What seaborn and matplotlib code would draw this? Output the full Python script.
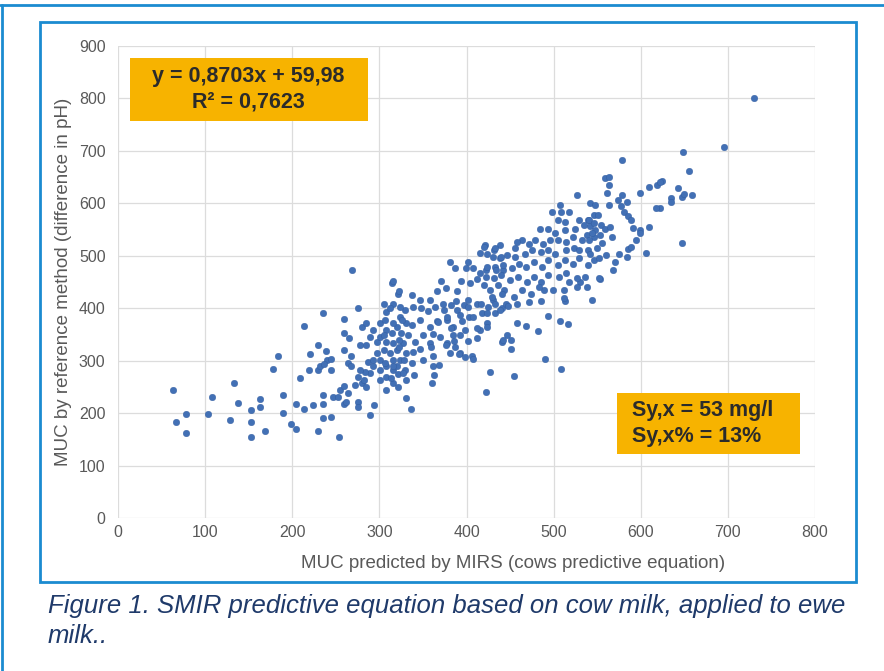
import matplotlib
matplotlib.use("Agg")
import matplotlib.pyplot as plt
import seaborn as sns
import pandas as pd
from matplotlib.patches import Rectangle
from matplotlib.lines import Line2D

# values (MUC, mg/l)
tail_x = [63, 67, 78, 78, 103, 108, 128, 133, 138, 153, 153, 153, 163, 163, 169, 178, 184, 189, 189,
          199, 204, 204, 209, 214, 214, 219, 220, 224, 229, 229, 230, 235, 235, 235, 235, 240, 244,
          244, 247, 254, 239, 245, 232, 236, 255, 259, 253]
tail_y = [244, 183, 198, 162, 198, 231, 186, 257, 219, 206, 183, 154, 226, 211, 165, 285, 308, 234, 200,
          179, 169, 217, 266, 367, 207, 282, 313, 216, 165, 283, 330, 391, 218, 190, 234, 301, 193,
          282, 231, 154, 318, 304, 289, 293, 244, 252, 231]

low_x = [259, 259, 259, 264, 269, 275, 289, 294, 314, 321, 331, 336, 360, 259, 265, 280, 285, 301, 308,
         268, 268, 278, 285, 287, 293, 301, 308, 316, 321, 312, 305, 324, 331, 276, 280, 285, 272, 264,
         262, 275, 275, 308, 316, 321, 331, 308, 314, 320, 325, 331, 324, 329, 316, 312, 293, 289, 297,
         301, 308, 316, 320, 327, 297, 293, 301, 316, 320, 329, 289, 284, 278, 308, 301, 282, 362]
low_y = [380, 320, 218, 296, 473, 400, 196, 215, 449, 427, 228, 207, 257, 352, 343, 365, 372, 371, 393,
         308, 289, 330, 330, 298, 289, 282, 289, 282, 275, 314, 320, 301, 314, 269, 257, 250, 254, 238,
         222, 222, 212, 244, 257, 250, 263, 358, 352, 365, 352, 371, 384, 397, 409, 401, 358, 346, 336,
         346, 336, 333, 320, 333, 314, 301, 301, 301, 289, 282, 276, 279, 282, 269, 263, 263, 289]

core_x = [421, 416, 431, 381, 387, 402, 399, 408, 416, 422, 433, 438, 442, 316, 371, 322, 337, 347, 358,
          366, 377, 389, 394, 404, 412, 420, 427, 436, 443, 305, 324, 339, 348, 356, 364, 374, 382, 389,
          397, 402, 412, 418, 425, 433, 441, 306, 316, 326, 337, 347, 358, 366, 378, 385, 395, 403, 416,
          423, 305, 322, 333, 341, 350, 358, 370, 378, 384, 393, 387, 393, 406, 427, 441, 322, 339, 347,
          359, 362, 350, 337, 328, 316, 306, 369, 327, 340, 363, 313]
core_y = [521, 505, 511, 489, 476, 489, 476, 476, 467, 472, 479, 495, 472, 451, 451, 432, 425, 416, 416,
          432, 438, 432, 451, 448, 455, 445, 435, 445, 435, 409, 403, 403, 400, 394, 403, 397, 406, 397,
          406, 416, 409, 391, 403, 391, 400, 378, 371, 378, 368, 378, 365, 375, 378, 365, 375, 384, 358,
          371, 349, 339, 349, 336, 349, 333, 346, 333, 349, 349, 327, 314, 308, 279, 336, 327, 317, 323,
          327, 308, 301, 295, 301, 289, 295, 292, 276, 273, 273, 267]

mid_x = [472, 486, 513, 493, 507, 517, 458, 468, 482, 447, 442, 451, 451, 407, 398, 391, 490, 508, 455,
         422, 544, 553, 530, 568, 373, 388, 402, 417, 430, 445, 438, 423, 408, 392, 378, 367, 382, 398,
         412, 423, 412, 402, 386, 377, 381, 361]
mid_y = [412, 414, 414, 385, 376, 369, 371, 366, 356, 348, 339, 340, 322, 303, 307, 313, 303, 284, 270,
         240, 416, 455, 450, 472, 409, 413, 403, 409, 416, 409, 397, 391, 384, 387, 384, 374, 362, 359,
         362, 365, 343, 337, 337, 330, 315, 350]

upper_x = [559, 563, 561, 527, 542, 507, 498, 509, 518, 505, 513, 529, 539, 546, 484, 494, 502, 513, 525,
           535, 542, 548, 546, 538, 532, 522, 514, 505, 496, 488, 479, 472, 464, 456, 458, 438, 433, 423,
           420, 430, 440, 447, 456, 467, 475, 485, 494, 502, 514, 523, 529, 540, 546, 540, 529, 522, 513,
           505, 494, 487, 478, 468, 460, 452, 442, 434, 424, 422, 431, 440, 450, 459, 469, 477, 486, 494,
           506, 514, 518, 527, 536, 538, 552, 527, 512, 499, 489, 483, 474, 464, 454, 441, 429, 433, 448,
           458, 512]
upper_y = [648, 635, 619, 616, 600, 597, 584, 584, 584, 568, 565, 568, 568, 578, 552, 552, 543, 549, 552,
           559, 556, 549, 536, 539, 530, 536, 527, 530, 530, 523, 530, 523, 530, 514, 527, 521, 514, 504,
           517, 498, 498, 501, 498, 504, 511, 508, 511, 504, 511, 514, 511, 511, 492, 482, 495, 485, 492,
           482, 492, 479, 489, 479, 485, 476, 482, 472, 479, 460, 457, 464, 454, 460, 450, 460, 450, 464,
           460, 467, 450, 457, 460, 441, 457, 441, 434, 434, 434, 441, 428, 434, 421, 428, 421, 409, 405,
           409, 419]

top_x = [649, 655, 578, 624, 619, 609, 599, 643, 647, 659, 635, 635, 622, 617, 564, 579, 574, 584, 547,
         564, 577, 581, 585, 589, 591, 599, 599, 609, 595, 585, 589, 575, 584, 571, 606, 647, 551, 541,
         546, 554, 559, 565, 567, 553, 544, 541, 555, 550, 542, 552, 560, 695, 730, 650, 622]
top_y = [697, 662, 683, 643, 635, 632, 619, 630, 613, 615, 610, 603, 591, 591, 650, 616, 606, 603, 597,
         597, 594, 584, 575, 568, 553, 550, 543, 555, 530, 513, 517, 504, 498, 489, 505, 524, 578, 569,
         562, 559, 551, 555, 536, 540, 543, 530, 524, 514, 504, 495, 501, 708, 801, 618, 641]

x_ticks = [0, 100, 200, 300, 400, 500, 600, 700, 800]
y_ticks = [0, 100, 200, 300, 400, 500, 600, 700, 800, 900]
equation_text = "y = 0,8703x + 59,98\nR² = 0,7623"
error_text = "Sy,x = 53 mg/l\nSy,x% = 13%"
caption = "Figure 1. SMIR predictive equation based on cow milk, applied to ewe\nmilk.."

df = pd.DataFrame({
    "pred": tail_x + low_x + core_x + mid_x + upper_x + top_x,
    "ref": tail_y + low_y + core_y + mid_y + upper_y + top_y,
})

sns.set_style("white")
plt.rcParams["font.family"] = ["Liberation Sans", "DejaVu Sans"]

fig = plt.figure(figsize=(8.84, 6.71), dpi=100)
ax = fig.add_axes([118 / 884, 1 - 518 / 671, (815 - 118) / 884, (518 - 46) / 671])

sns.scatterplot(data=df, x="pred", y="ref", ax=ax, color="#4270b5", s=22,
                edgecolor="#2f5a9e", linewidth=0.3, zorder=3)

ax.set_xlim(0, 800)
ax.set_ylim(0, 900)
ax.set_xticks(x_ticks)
ax.set_yticks(y_ticks)
ax.grid(True, color="#dcdcdc", linewidth=0.9, zorder=0)
for s in ax.spines.values():
    s.set_visible(False)
ax.tick_params(length=0, labelsize=11.5, labelcolor="#595959")
ax.tick_params(axis="x", pad=5)
ax.tick_params(axis="y", pad=9)
ax.set_xlabel("MUC predicted by MIRS (cows predictive equation)", fontsize=13.5, color="#595959", labelpad=11)
ax.xaxis.label.set_x(0.567)
ax.set_ylabel("MUC by reference method (difference in pH)", fontsize=13.5, color="#595959", labelpad=5)

# orange annotation boxes
ax.add_patch(Rectangle((14, 757), 273, 120, facecolor="#f7b300", edgecolor="none", zorder=4))
ax.text(150, 817, equation_text, ha="center", va="center", multialignment="center",
        fontsize=15.5, fontweight="bold", color="#2b2b2b", zorder=5, linespacing=1.3)
ax.add_patch(Rectangle((573, 122), 210, 116, facecolor="#f7b300", edgecolor="none", zorder=4))
ax.text(590, 180, error_text, ha="left", va="center", multialignment="left",
        fontsize=15.5, fontweight="bold", color="#2b2b2b", zorder=5, linespacing=1.3)

# page frame
fig.add_artist(Rectangle((40 / 884, 1 - 582 / 671), 816 / 884, 560 / 671, transform=fig.transFigure,
                         fill=False, edgecolor="#1b8bd0", linewidth=2))
fig.add_artist(Line2D([0, 1], [1 - 5 / 671, 1 - 5 / 671], transform=fig.transFigure,
                      color="#1b8bd0", linewidth=2))
fig.add_artist(Line2D([1.5 / 884, 1.5 / 884], [0, 1 - 5 / 671], transform=fig.transFigure,
                      color="#1b8bd0", linewidth=2))

fig.text(48 / 884, 1 - 594 / 671, caption, ha="left", va="top", fontsize=18.5, style="italic",
         color="#1f3a6a", linespacing=1.32)

fig.savefig("out.png", dpi=100)
